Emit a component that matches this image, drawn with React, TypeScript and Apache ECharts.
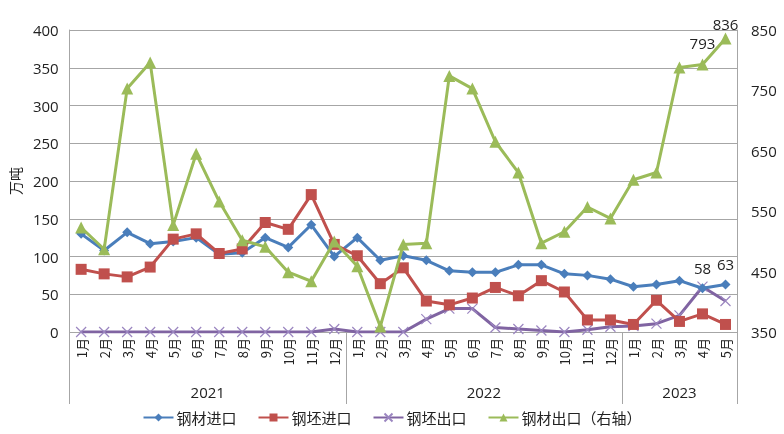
import React, { useEffect, useRef } from "react";
import * as echarts from "echarts";

const months = [
  "1月","2月","3月","4月","5月","6月","7月","8月","9月","10月","11月","12月",
  "1月","2月","3月","4月","5月","6月","7月","8月","9月","10月","11月","12月",
  "1月","2月","3月","4月","5月",
];
const years = ["2021", "2022", "2023"];
const monthsPerYear = [12, 12, 5];

const steelImport = [130, 108, 132, 117, 120, 125, 103, 105, 125, 112, 142, 100,
  125, 95, 101, 95, 81, 79, 79, 89, 89, 77, 75, 70, 60, 63, 68, 58, 63];
const billetImport = [83, 77, 73, 86, 123, 130, 104, 110, 145, 136, 182, 116,
  101, 64, 85, 41, 36, 45, 59, 48, 68, 53, 16, 16, 10, 42, 14, 24, 10];
const billetExport = [0, 0, 0, 0, 0, 0, 0, 0, 0, 0, 0, 4,
  0, 0, 0, 17, 31, 31, 6, 4, 2, 0, 3, 7, 8, 11, 22, 60, 41];
const steelExport = [523, 487, 753, 796, 527, 645, 566, 502, 491, 449, 434, 500,
  459, 359, 495, 497, 774, 753, 665, 614, 497, 516, 557, 538, 602, 614, 788, 793, 836];

const leftTicks = { min: 0, max: 400, interval: 50 };
const rightTicks = { min: 350, max: 850, interval: 100 };

const labeledSteelImport = [27, 28];
const labeledSteelExport = [27, 28];

const FONT = "'Open Sans', 'Noto Sans CJK SC', sans-serif";
const CJK = "'Noto Sans CJK SC', sans-serif";

export default function App() {
  const ref = useRef<HTMLDivElement>(null);
  useEffect(() => {
    if (!ref.current) return;
    const chart = echarts.init(ref.current, null, { renderer: "svg" });

    const boundaries: number[] = [0];
    const centers: number[] = [];
    let acc = 0;
    monthsPerYear.forEach((n) => {
      centers.push(acc + n / 2);
      acc += n;
      boundaries.push(acc);
    });
    const yearAt = (v: number) => {
      const i = centers.findIndex((c) => Math.abs(c - v) < 1e-6);
      return i >= 0 ? years[i] : "";
    };

    const withLabels = (arr: number[], idx: number[], dist: (i: number) => number) =>
      arr.map((v, i) =>
        idx.includes(i)
          ? { value: v, label: { show: true, position: "top", distance: dist(i), color: "#222", fontSize: 15, fontFamily: FONT } }
          : v
      );

    const cross = "path://M0,0L10,10M10,0L0,10";

    chart.setOption({
      animation: false,
      textStyle: { fontFamily: FONT },
      grid: { left: 64, right: 47, top: 30, bottom: 102, containLabel: false },
      legend: {
        bottom: 4,
        left: "center",
        itemWidth: 30,
        itemHeight: 10,
        itemGap: 21,
        textStyle: { fontFamily: CJK, fontSize: 15, color: "#222", padding: [0, 0, 0, -2] },
        data: ["钢材进口", "钢坯进口", "钢坯出口", "钢材出口（右轴）"],
      },
      xAxis: [
        {
          type: "category",
          data: months,
          boundaryGap: true,
          axisLine: { lineStyle: { color: "#a6a6a6" } },
          axisTick: { show: false },
          axisLabel: { rotate: 90, margin: 6, fontSize: 13, color: "#222", fontFamily: CJK, interval: 0 },
        },
        {
          type: "value",
          position: "bottom",
          min: 0,
          max: monthsPerYear.reduce((a, b) => a + b, 0),
          axisLine: { show: false },
          splitLine: { show: false },
          axisTick: { show: true, length: 72, customValues: boundaries, lineStyle: { color: "#a6a6a6" } },
          axisLabel: {
            show: true,
            customValues: centers,
            margin: 52,
            fontSize: 15,
            color: "#222",
            fontFamily: FONT,
            formatter: (v: number) => yearAt(v),
          },
        },
      ],
      yAxis: [
        {
          type: "value",
          name: "万吨",
          nameLocation: "middle",
          nameRotate: 90,
          nameGap: 42,
          nameTextStyle: { fontFamily: CJK, fontSize: 14, color: "#222" },
          min: leftTicks.min,
          max: leftTicks.max,
          interval: leftTicks.interval,
          axisLine: { show: true, lineStyle: { color: "#a6a6a6" } },
          axisTick: { show: false },
          axisLabel: { fontSize: 15, color: "#222", margin: 11 },
          splitLine: { lineStyle: { color: "#a6a6a6", width: 1 } },
        },
        {
          type: "value",
          min: rightTicks.min,
          max: rightTicks.max,
          interval: rightTicks.interval,
          position: "right",
          axisLine: { show: true, lineStyle: { color: "#a6a6a6" } },
          axisTick: { show: false },
          axisLabel: { fontSize: 15, color: "#222", margin: 14 },
          splitLine: { show: false },
        },
      ],
      series: [
        {
          name: "钢材进口",
          type: "line",
          data: withLabels(steelImport, labeledSteelImport, () => 8),
          symbol: "diamond",
          symbolSize: 10,
          color: "#4A7EBB",
          lineStyle: { width: 3, color: "#4A7EBB" },
          itemStyle: { color: "#4A7EBB" },
          z: 3,
        },
        {
          name: "钢坯进口",
          type: "line",
          data: billetImport,
          symbol: "rect",
          symbolSize: 11,
          color: "#C0504D",
          lineStyle: { width: 3, color: "#C0504D" },
          itemStyle: { color: "#C0504D" },
          z: 4,
        },
        {
          name: "钢坯出口",
          type: "line",
          data: billetExport,
          symbol: cross,
          symbolSize: 10,
          color: "#9B86C0",
          lineStyle: { width: 3, color: "#8064A2" },
          itemStyle: { color: "#9B86C0", borderColor: "#9B86C0", borderWidth: 1.2 },
          z: 2,
        },
        {
          name: "钢材出口（右轴）",
          type: "line",
          yAxisIndex: 1,
          data: withLabels(steelExport, labeledSteelExport, (i) => (i === 28 ? 1 : 8)),
          symbol: "triangle",
          symbolSize: 12,
          color: "#9BBB59",
          lineStyle: { width: 3, color: "#9BBB59" },
          itemStyle: { color: "#9BBB59" },
          z: 5,
        },
      ],
    });
    return () => chart.dispose();
  }, []);
  return <div ref={ref} style={{ position: "fixed", left: 0, top: 0, width: 784, height: 434 }} />;
}
